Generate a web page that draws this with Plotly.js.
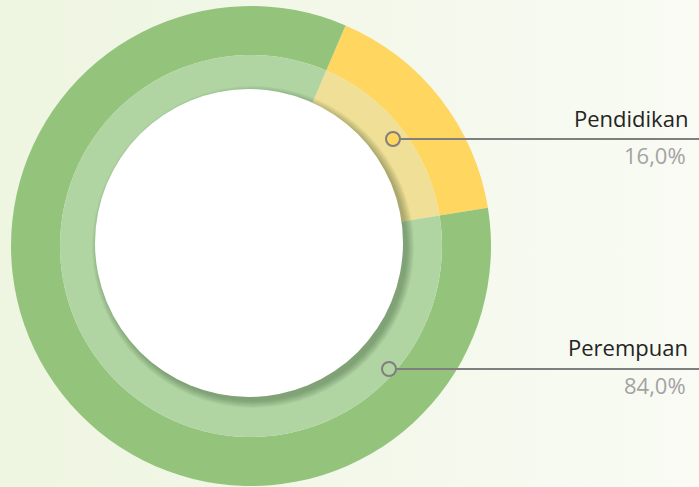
<!DOCTYPE html>
<html>
<head>
<meta charset="utf-8">
<script src="https://cdn.plot.ly/plotly-3.0.1.min.js"></script>
<style>
  html, body { margin:0; padding:0; width:699px; height:487px; overflow:hidden;
    background: linear-gradient(to right, #eef5e0 0%, #f3f8ea 50%, #f9fbf4 100%); }
  #chart { width:699px; height:487px; }
</style>
</head>
<body>
<div id="chart"></div>
<script>
// ---- data ----
const categories = ['Pendidikan', 'Perempuan'];
const values = [16, 84];
const outerColors = ['#FFD65F', '#94C47C'];
const innerColors = ['#F0DF96', '#B0D5A2'];
const markerFill = ['#FFD65F', '#B0D5A2'];

// ---- layout geometry (pixels) ----
const W = 699, H = 487;
const cx = 251, cy = 246;          // ring centre
const rOuter = 240, rMid = 191, rWhite = 154;
const wcx = 249, wcy = 243;        // white disc centre
const px = x => x / W;
const py = y => 1 - y / H;

const total = values.reduce((a, b) => a + b, 0);
const pctText = values.map(v => (v / total * 100).toFixed(1).replace('.', ',') + '%');

// rotation so the first slice is centred at ~52 degrees clockwise from 12 o'clock
const firstAngle = values[0] / total * 360;
const rotation = 52 - firstAngle / 2;

function domainFor(r) {
  return { x: [px(cx - r), px(cx + r)], y: [py(cy + r), py(cy - r)] };
}

const traces = [
  {
    type: 'pie', labels: categories, values: values, sort: false,
    direction: 'clockwise', rotation: rotation, hole: rMid / rOuter,
    domain: domainFor(rOuter), textinfo: 'none', hoverinfo: 'skip',
    marker: { colors: outerColors, line: { width: 0 } }, showlegend: false
  },
  {
    type: 'pie', labels: categories, values: values, sort: false,
    direction: 'clockwise', rotation: rotation, hole: 0.5,
    domain: domainFor(rMid), textinfo: 'none', hoverinfo: 'skip',
    marker: { colors: innerColors, line: { width: 0 } }, showlegend: false
  }
];

const shapes = [];
function circle(x, y, r, fill, line) {
  shapes.push({
    type: 'circle', xref: 'paper', yref: 'paper', layer: 'above',
    x0: px(x - r), x1: px(x + r), y0: py(y + r), y1: py(y - r),
    fillcolor: fill, line: line || { width: 0 }
  });
}
// soft shadow of the white disc (offset down-right)
const N = 10;
for (let i = 0; i < N; i++) {
  circle(wcx + 4, wcy + 4, rWhite - 1 + (N - i) * 0.8, 'rgba(40,50,30,0.035)');
}
circle(wcx, wcy, rWhite, '#ffffff');

// leader lines + markers
const labelRows = [
  { mx: 393, my: 139, nameY: 118, pctY: 155 },
  { mx: 389, my: 369, nameY: 347, pctY: 385 }
];
const annotations = [];
categories.forEach((c, i) => {
  const row = labelRows[i];
  shapes.push({
    type: 'line', xref: 'paper', yref: 'paper', layer: 'above',
    x0: px(row.mx), x1: 1, y0: py(row.my), y1: py(row.my),
    line: { color: '#7f7f7f', width: 2 }
  });
  circle(row.mx, row.my, 7, markerFill[i], { color: '#7f7f7f', width: 2 });
  annotations.push({
    xref: 'paper', yref: 'paper', x: px(690), y: py(row.nameY),
    xanchor: 'right', yanchor: 'middle', showarrow: false, text: c,
    font: { family: 'Open Sans, Noto Sans, sans-serif', size: 22, color: '#252423' }
  });
  annotations.push({
    xref: 'paper', yref: 'paper', x: px(688), y: py(row.pctY),
    xanchor: 'right', yanchor: 'middle', showarrow: false, text: pctText[i],
    font: { family: 'Open Sans, Noto Sans, sans-serif', size: 22, color: '#a3a3a3' }
  });
});

const layout = {
  width: W, height: H,
  margin: { l: 0, r: 0, t: 0, b: 0 },
  paper_bgcolor: 'rgba(0,0,0,0)', plot_bgcolor: 'rgba(0,0,0,0)',
  showlegend: false, shapes: shapes, annotations: annotations
};

Plotly.newPlot('chart', traces, layout, { staticPlot: true, displayModeBar: false });
</script>
</body>
</html>
